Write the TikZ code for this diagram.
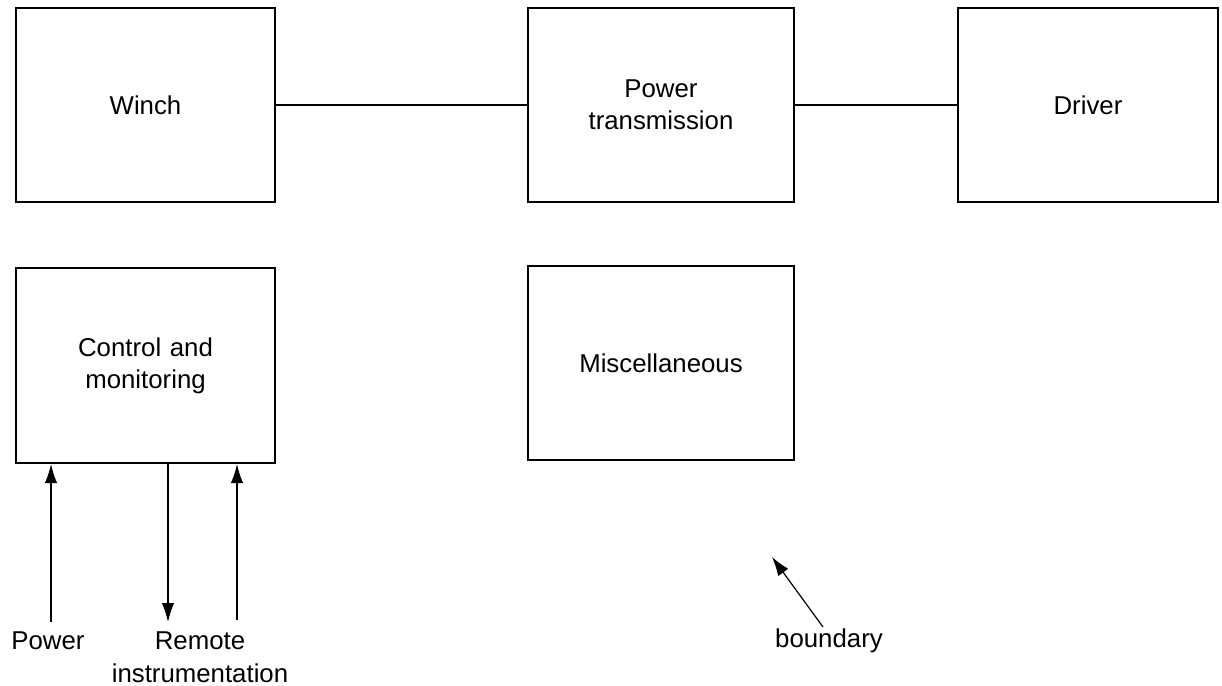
\documentclass[tikz,border=0pt]{standalone}
\usepackage{fontspec}
\setmainfont{Liberation Sans}
\usetikzlibrary{arrows.meta}
\begin{document}
\begin{tikzpicture}[x=0.5pt,y=-0.5pt,
  blk/.style={draw, line width=1.1pt, inner sep=0pt, text width=125pt, align=center},
  conn/.style={line width=0.6pt},
  arr/.style={line width=0.6pt, -{Latex[length=9.5pt,width=6.2pt]}},
  lbl/.style={inner sep=0pt, align=center},
  every node/.append style={font=\fontsize{12.9pt}{16pt}\selectfont}]
\useasboundingbox (0,0) rectangle (1222,686);
\node[blk, minimum width=129.5pt, minimum height=97pt] (winch) at (145.5,105) {Winch};
\node[blk, minimum width=133pt, minimum height=97pt] (pt) at (661,105) {Power\\transmission};
\node[blk, minimum width=130pt, minimum height=97pt] (driver) at (1088,105) {Driver};
\node[blk, minimum width=129.5pt, minimum height=97.5pt] (ctrl) at (145.5,365.5) {Control and\\monitoring};
\node[blk, minimum width=133pt, minimum height=97pt] (misc) at (661,363) {Miscellaneous};
\draw[conn] (winch.east) -- (pt.west);
\draw[conn] (pt.east) -- (driver.west);
\coordinate (p1) at (51,622);
\coordinate (p2) at (168,622);
\coordinate (p3) at (237,620);
\draw[arr] (p1) -- (p1 |- ctrl.south);
\draw[arr] (p2 |- ctrl.south) -- (p2);
\draw[arr] (p3) -- (p3 |- ctrl.south);
\node[lbl] (power) at (48,641) {Power};
\node[lbl] (remote) at (200,641) {Remote};
\node[lbl] (instr) at (200,673) {instrumentation};
\coordinate (b1) at (823,627);
\coordinate (b2) at (772,557);
\draw[arr] (b1) -- (b2);
\node[lbl] (boundary) at (829,641) {boundary};
\end{tikzpicture}
\end{document}
